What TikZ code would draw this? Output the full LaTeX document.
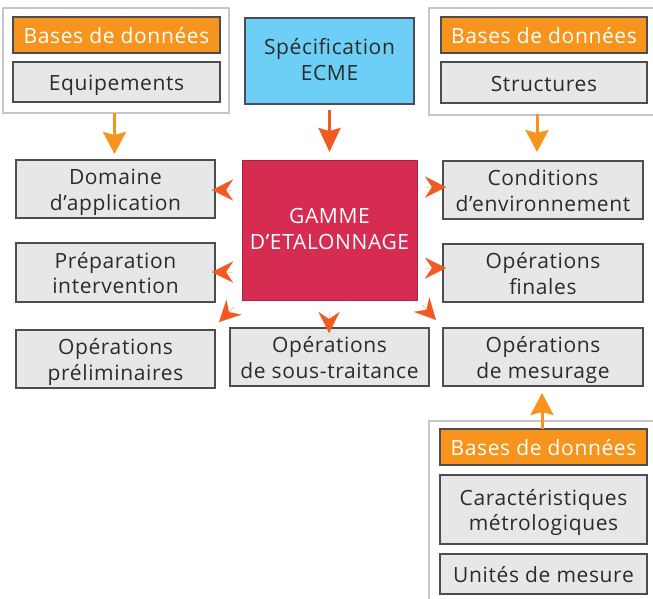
\documentclass[tikz,border=0pt]{standalone}
\usepackage{fontspec}
\setmainfont{Open Sans}[LetterSpace=3]
\usetikzlibrary{arrows.meta}
\definecolor{dborange}{HTML}{F7941D}
\definecolor{arrred}{HTML}{F15A22}
\definecolor{specblue}{HTML}{6DCFF6}
\definecolor{gammered}{HTML}{D72C52}
\definecolor{boxgray}{HTML}{E6E7E8}
\definecolor{boxline}{HTML}{4D4D4F}
\definecolor{frameline}{HTML}{C4C6C8}
\definecolor{txt}{HTML}{2B2B2B}
\newcommand{\mybotstrut}{\rule[-5.5pt]{0pt}{5.5pt}}
\tikzset{
  base/.style={rectangle, inner sep=0pt, align=center, font=\fontsize{21}{25.5}\selectfont,
    text height=23pt, execute at end node={\mybotstrut}},
  twoline/.style={text height=47.5pt},
  graybox/.style={base, fill=boxgray, draw=boxline, line width=1.2pt, text=txt},
  dbbox/.style={base, fill=dborange, draw=boxline, line width=1.2pt, text=white},
  frame/.style={rectangle, inner sep=0pt, draw=frameline, line width=1.5pt, fill=white},
  dbarrow/.style={draw=dborange, line width=3pt, -{Stealth[length=22pt,width=23pt,inset=3pt]}},
  specarrow/.style={draw=arrred, line width=3pt, -{Stealth[length=24pt,width=22pt,inset=3pt]}},
  headonly/.style={draw=arrred, fill=arrred, line width=0.01pt, -{Stealth[length=21pt,width=21pt,inset=7pt]}},
}
\begin{document}
\begin{tikzpicture}[x=1pt,y=-1pt]
\useasboundingbox (0,0) rectangle (653,598);
% frames
\node[frame, minimum width=226pt, minimum height=105pt] (frameL) at (116,60.5) {};
\node[frame, minimum width=228pt, minimum height=107pt] (frameR) at (543,61.5) {};
\node[frame, minimum width=228pt, minimum height=181pt] (frameB) at (543,511.5) {};
% top left database
\node[dbbox, minimum width=207pt, minimum height=36pt] (dbL) at (116.5,35) {Bases de données};
\node[graybox, minimum width=207pt, minimum height=40pt] (eqL) at (116.5,82) {Equipements};
% spec
\node[base, text height=43.5pt, fill=specblue, draw=boxline, line width=1.2pt, text=txt, minimum width=169pt, minimum height=86pt] (spec) at (329.5,61) {Spécification\\ECME};
% top right database
\node[dbbox, minimum width=206pt, minimum height=36pt] (dbR) at (544,35) {Bases de données};
\node[graybox, minimum width=206pt, minimum height=41pt] (structR) at (544,82.5) {Structures};
% central
\node[base, text height=43.5pt, fill=gammered, draw=gammered!80!black, line width=1pt, text=white, minimum width=175pt, minimum height=140pt] (gamme) at (329.5,230) {GAMME\\D’ETALONNAGE};
% left column
\node[graybox, twoline, minimum width=199pt, minimum height=58pt] (domaine) at (115.5,189) {Domaine\\d’application};
\node[graybox, twoline, minimum width=199pt, minimum height=59pt] (prep) at (115.5,272.5) {Préparation\\intervention};
\node[graybox, twoline, minimum width=199pt, minimum height=58pt] (prel) at (115.5,359) {Opérations\\préliminaires};
% middle bottom
\node[graybox, twoline, minimum width=199pt, minimum height=58pt] (sous) at (329.5,357) {Opérations\\de sous-traitance};
% right column
\node[graybox, twoline, minimum width=200pt, minimum height=58pt] (cond) at (543,190) {Conditions\\d’environnement};
\node[graybox, twoline, minimum width=200pt, minimum height=58pt] (fin) at (543,273) {Opérations\\finales};
\node[graybox, twoline, minimum width=200pt, minimum height=58pt] (mes) at (543,357) {Opérations\\de mesurage};
% bottom right database
\node[dbbox, minimum width=207pt, minimum height=36pt] (dbB) at (543.5,447) {Bases de données};
\node[graybox, twoline, minimum width=207pt, minimum height=69pt] (carac) at (543.5,509.5) {Caractéristiques\\métrologiques};
\node[graybox, minimum width=207pt, minimum height=40pt] (unites) at (543.5,574) {Unités de mesure};
% connector end points
\coordinate (sL) at (114.5,113); \coordinate (tL) at (114.5,154);
\coordinate (sR) at (537,114); \coordinate (tR) at (537,152);
\coordinate (sS) at (329.5,110); \coordinate (tS) at (329.5,152);
\coordinate (sB) at (542,429); \coordinate (tB) at (542,393);
\draw[dbarrow] (sL) -- (tL);
\draw[dbarrow] (sR) -- (tR);
\draw[dbarrow] (sB) -- (tB);
\draw[specarrow] (sS) -- (tS);
% arrowheads around the central box
\coordinate (b1) at (233,190); \coordinate (h1) at (212,190);
\coordinate (b2) at (233,272); \coordinate (h2) at (212,272);
\coordinate (b3) at (234,307); \coordinate (h3) at (219,322);
\coordinate (b4) at (329,312); \coordinate (h4) at (329,333);
\coordinate (b5) at (422,305); \coordinate (h5) at (436,320);
\coordinate (b6) at (425,268); \coordinate (h6) at (446,268);
\coordinate (b7) at (425,187); \coordinate (h7) at (446,187);
\foreach \i in {1,...,7} { \draw[headonly] (b\i) -- (h\i); }
\end{tikzpicture}
\end{document}
